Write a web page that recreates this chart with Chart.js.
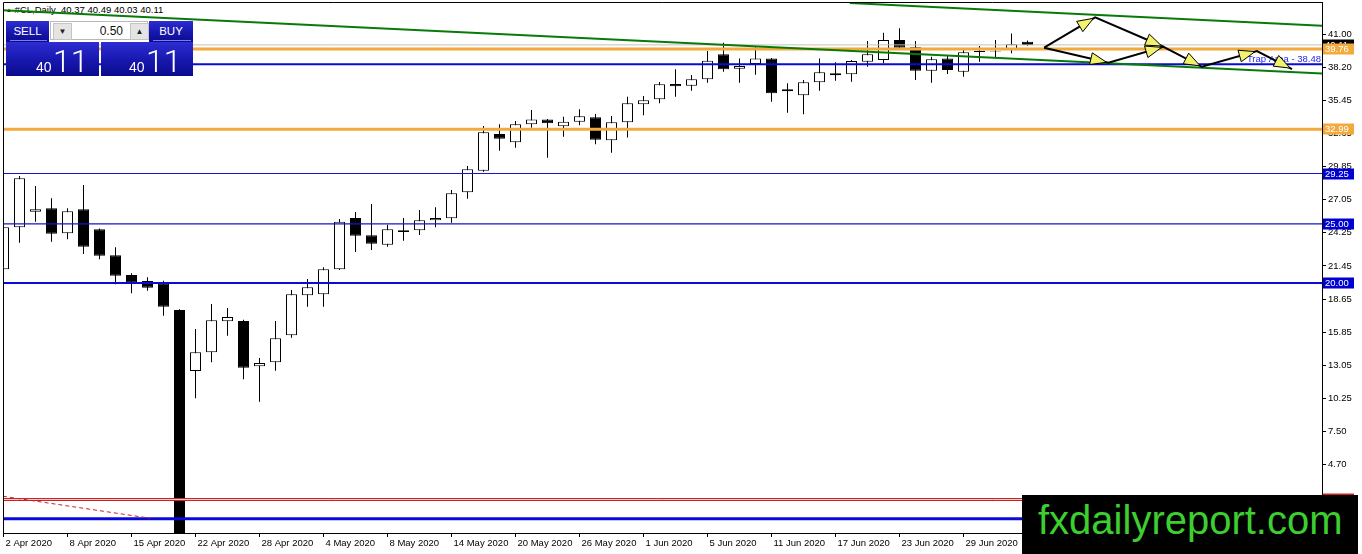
<!DOCTYPE html>
<html>
<head>
<meta charset="utf-8">
<script src="https://cdn.jsdelivr.net/npm/chart.js@4.4.1/dist/chart.umd.min.js"></script>
<style>
  html, body { margin: 0; padding: 0; background: #fff; }
  body { width: 1362px; height: 554px; position: relative; overflow: hidden; font-family: 'Liberation Sans', Arial, sans-serif; }
  #title { position: absolute; left: 6px; top: 5px; font-size: 9.5px; line-height: 10px; color: #000; white-space: pre; z-index: 0; }
  #title .tri { font-size: 6px; vertical-align: 1px; }
  #wrap { position: absolute; left: 0; top: 0; width: 1362px; height: 554px; z-index: 1; }
  .blue { position: absolute; color: #fff; background: linear-gradient(to bottom, #2d2dd2 0%, #1717ae 55%, #0b0b8e 100%); }
  #sell { left: 6px; top: 21px; width: 43px; height: 21px; z-index: 3; }
  #buy { left: 149px; top: 21px; width: 44px; height: 21px; z-index: 3; }
  #sell span, #buy span { position: absolute; left: 0; right: 0; top: 4px; text-align: center; font-size: 11.5px; line-height: 12px; }
  #sell i, #buy i { position: absolute; left: 4px; right: 2px; bottom: 1px; height: 1px; background: #7a7aee; }
  #pl { left: 6px; top: 42px; width: 93px; height: 34px; z-index: 2; }
  #pr { left: 101px; top: 42px; width: 92px; height: 34px; z-index: 2; }
  .sm { position: absolute; top: 18px; font-size: 14px; line-height: 14px; }
  .bg { position: absolute; top: 3px; font-family: Roboto, 'Liberation Sans', sans-serif; font-weight: 300; font-size: 32px; line-height: 32px; }
  #spin { position: absolute; left: 50px; top: 21px; width: 98px; height: 19px; background: #fff; border: 1px solid #b8b8b8; box-sizing: border-box; z-index: 3; }
  .sb { position: absolute; top: 1px; width: 17px; height: 15px; background: #e4e4e4; border: 1px solid #c4c4c4; font-size: 8px; line-height: 15px; text-align: center; color: #222; }
  #lot { position: absolute; right: 24px; top: 2px; font-size: 12px; line-height: 14px; color: #111; }
  #mark { position: absolute; left: 1022px; top: 495px; width: 336px; height: 59px; background: #000; z-index: 4; }
  #mark span { position: absolute; left: 16px; top: 5px; font-size: 40px; line-height: 40px; color: #3dce2f; white-space: nowrap; }
</style>
</head>
<body>
<div id="title"><span class="tri">&#9650;</span> #CL,Daily  40.37 40.49 40.03 40.11</div>
<div id="wrap"><canvas id="chart" width="1362" height="554"></canvas></div>

<div id="sell" class="blue"><span>SELL</span><i></i></div>
<div id="spin"><div class="sb" style="left:2px">&#9660;</div><span id="lot">0.50</span><div class="sb" style="left:79px">&#9650;</div></div>
<div id="buy" class="blue"><span>BUY</span><i></i></div>
<div id="pl" class="blue"><span class="sm" style="left:30px">40</span><span class="bg" style="left:47px">11</span></div>
<div id="pr" class="blue"><span class="sm" style="left:28px">40</span><span class="bg" style="left:45px">11</span></div>

<div id="mark"><span>fxdailyreport.com</span></div>

<script>
// #CL diario, 2 abr - 3 jul 2020: uma barra por pregao (indice 0..64)
const dateLabels = ['2 Apr 2020', '8 Apr 2020', '15 Apr 2020', '22 Apr 2020', '28 Apr 2020', '4 May 2020',
  '8 May 2020', '14 May 2020', '20 May 2020', '26 May 2020', '1 Jun 2020', '5 Jun 2020',
  '11 Jun 2020', '17 Jun 2020', '23 Jun 2020', '29 Jun 2020'];
const labelBars = [0, 4, 8, 12, 16, 20, 24, 28, 32, 36, 40, 44, 48, 52, 56, 60];

const opens = [21.16, 24.71, 26.02, 26.31, 24.20, 26.23, 24.54, 22.34, 20.68, 20.17,
  19.98, 17.73, 12.58, 14.16, 16.77, 16.80, 12.97, 13.31, 15.59, 18.97,
  19.05, 21.16, 25.49, 24.03, 23.24, 24.45, 24.45, 25.30, 25.47, 27.66,
  29.49, 32.58, 31.88, 33.40, 33.82, 33.23, 33.62, 33.99, 32.05, 33.57,
  35.09, 35.51, 36.80, 36.66, 37.20, 39.31, 38.10, 38.49, 38.97, 36.19,
  35.85, 36.95, 37.71, 37.62, 38.69, 38.83, 40.52, 39.90, 37.93, 38.97,
  37.84, 39.51, 39.55, 39.73, 40.37];
const highs = [27.29, 29.04, 28.19, 27.16, 26.31, 28.28, 24.60, 23.02, 20.82, 20.49,
  20.20, 17.80, 16.12, 18.23, 17.89, 16.90, 13.67, 16.80, 19.41, 20.34,
  21.33, 25.41, 26.00, 26.67, 24.93, 25.49, 26.17, 26.40, 27.86, 29.88,
  33.26, 33.40, 33.68, 34.61, 33.85, 34.04, 34.67, 34.27, 34.10, 35.73,
  35.79, 36.97, 38.05, 37.56, 39.59, 40.29, 38.97, 39.90, 39.00, 36.86,
  37.14, 38.97, 38.64, 38.83, 40.43, 41.14, 41.51, 40.43, 39.11, 39.17,
  39.67, 40.01, 40.52, 41.08, 40.49];
const lows = [20.68, 23.41, 25.18, 23.49, 23.69, 22.45, 22.01, 19.90, 19.14, 19.36,
  17.25, -3.00, 10.27, 13.31, 15.56, 11.88, 9.99, 12.60, 15.39, 18.00,
  18.00, 21.10, 22.62, 22.80, 23.07, 23.58, 24.06, 24.71, 25.10, 27.12,
  29.40, 31.17, 31.43, 33.12, 30.58, 32.36, 33.32, 31.71, 31.00, 32.30,
  34.16, 35.18, 35.73, 36.24, 36.91, 37.84, 36.91, 37.59, 35.31, 34.38,
  34.25, 36.24, 37.08, 37.00, 38.26, 38.55, 39.76, 37.14, 36.91, 37.65,
  37.42, 38.69, 38.97, 39.40, 40.03];
const closes = [24.71, 28.84, 26.23, 24.17, 26.06, 23.07, 22.31, 20.62, 20.06, 19.61,
  18.00, -3.00, 14.16, 16.86, 17.14, 12.86, 13.25, 15.34, 19.05, 19.64,
  21.16, 25.18, 24.00, 23.32, 24.54, 24.31, 25.30, 25.49, 27.58, 29.60,
  32.73, 32.19, 33.40, 33.82, 33.49, 33.62, 34.08, 32.10, 33.57, 35.18,
  35.43, 36.78, 36.61, 37.20, 38.77, 38.05, 38.32, 38.97, 36.02, 36.36,
  36.95, 37.79, 37.54, 38.75, 39.31, 40.52, 39.87, 37.93, 38.89, 37.99,
  39.48, 39.59, 39.60, 40.16, 40.11];

const yTicks = [41.00, 38.20, 35.45, 32.65, 29.85, 27.05, 24.25, 21.45, 18.65, 15.85, 13.05, 10.25, 7.50, 4.70];

// niveis horizontais desenhados no grafico
const orangeLevels = [39.76, 32.99];
const blueLevels = [38.48, 20.00];
const thinBlueLevels = [29.25, 25.00];
const baseLevels = [0.11];
const redLevels = [1.73];
const bidPrice = 40.11;
const trapLevel = 38.48;

// objetos desenhados: [indice da barra, preco]
const trendUpper = [[52.9, 43.64], [82.41, 41.73]];
const trendLower = [[-0.03, 43.04], [82.41, 37.69]];
const redDash = [[-0.03, 2.00], [9.16, 0.15]];
const arrowUp = [[65.04, 39.87], [68.23, 42.44], [72.50, 39.95]];
const arrowDown = [[65.04, 39.87], [69.06, 38.60], [72.50, 39.95], [74.90, 38.26], [78.34, 39.59], [80.53, 38.07]];

const X_MIN = -0.03125, X_MAX = 82.406, Y_MIN = -1.10, Y_MAX = 43.73;
const ORANGE = 'rgb(242,170,60)', BLUE = '#0a0ad8', THIN_BLUE = '#1616c8', GREEN = '#087a08', RED = '#cc2020';
const FONT = { family: "'Liberation Sans', Arial, sans-serif", size: 9.5 };

const idx = opens.map((_, i) => i);
const pts = (arr) => arr.map(([x, y]) => ({ x, y }));
const hline = (v, color, width, order) => ({
  type: 'line', data: [{ x: X_MIN, y: v }, { x: X_MAX, y: v }],
  borderColor: color, borderWidth: width, pointRadius: 0, pointHoverRadius: 0, clip: 0, order,
});
const seg = (arr, color, width, order, dash) => ({
  type: 'line', data: pts(arr), borderColor: color, borderWidth: width, borderDash: dash || [],
  pointRadius: 0, pointHoverRadius: 0, tension: 0, clip: 0, order,
});

const datasets = [
  // pavios atras dos corpos
  { type: 'bar', data: idx.map((i) => ({ x: i, y: [lows[i], highs[i]] })), backgroundColor: '#000',
    borderWidth: 0, barThickness: 1, grouped: false, inflateAmount: 0, clip: 0, order: 20 },
  { type: 'bar', data: idx.map((i) => ({ x: i, y: [opens[i], closes[i]] })),
    backgroundColor: idx.map((i) => (closes[i] >= opens[i] ? '#fff' : '#000')),
    borderColor: '#000', borderWidth: 1, borderSkipped: false, barThickness: 11, grouped: false,
    inflateAmount: 0, clip: 0, order: 19 },
  hline(bidPrice, '#c0c0c0', 1, 8),
  ...thinBlueLevels.map((v) => hline(v, THIN_BLUE, 1.2, 7)),
  ...blueLevels.map((v) => hline(v, BLUE, 2, 7)),
  ...baseLevels.map((v) => hline(v, BLUE, 3, 7)),
  ...redLevels.map((v) => hline(v, RED, 3, 7)),
  ...redLevels.map((v) => hline(v, '#f6d0d0', 1, 6)),
  ...orangeLevels.map((v) => hline(v, ORANGE, 3, 6)),
  seg(redDash, RED, 1, 5, [4, 3]),
  seg(trendUpper, GREEN, 2, 4),
  seg(trendLower, GREEN, 2, 4),
  seg(arrowUp, '#000', 2, 2),
  seg(arrowDown, '#000', 2, 2),
];

const overlay = {
  id: 'mtOverlay',
  beforeDatasetsDraw(chart) {
    const { ctx, chartArea: a, scales: { y } } = chart;
    ctx.save();
    ctx.font = `${FONT.size}px ${FONT.family}`;
    ctx.fillStyle = '#2626f0';
    ctx.textAlign = 'right';
    ctx.textBaseline = 'bottom';
    ctx.fillText('Trap Area - ' + trapLevel.toFixed(2), a.right - 1, y.getPixelForValue(trapLevel) - 0.5);
    ctx.restore();
  },
  afterDatasetsDraw(chart) {
    const { ctx, chartArea: a, scales: { x, y } } = chart;
    ctx.save();
    ctx.beginPath();
    ctx.rect(a.left, a.top, a.right - a.left, a.bottom - a.top);
    ctx.clip();
    [arrowUp, arrowDown].forEach((path) => {
      for (let i = 1; i < path.length; i++) {
        const x0 = x.getPixelForValue(path[i - 1][0]), y0 = y.getPixelForValue(path[i - 1][1]);
        const x1 = x.getPixelForValue(path[i][0]), y1 = y.getPixelForValue(path[i][1]);
        const len = Math.hypot(x1 - x0, y1 - y0);
        const ux = (x1 - x0) / len, uy = (y1 - y0) / len;
        const tx = x1 - ux * 2, ty = y1 - uy * 2;
        const bx = tx - ux * 16, by = ty - uy * 16;
        ctx.beginPath();
        ctx.moveTo(tx, ty);
        ctx.lineTo(bx - uy * 6, by + ux * 6);
        ctx.lineTo(bx + uy * 6, by - ux * 6);
        ctx.closePath();
        ctx.fillStyle = '#f2f26c';
        ctx.fill();
        ctx.strokeStyle = '#000';
        ctx.lineWidth = 1;
        ctx.stroke();
      }
    });
    ctx.restore();
  },
  afterDraw(chart) {
    const { ctx, chartArea: a, scales: { y } } = chart;
    ctx.save();
    // moldura superior e esquerda
    ctx.strokeStyle = '#000';
    ctx.lineWidth = 1;
    ctx.beginPath();
    ctx.moveTo(a.left + 0.5, a.bottom);
    ctx.lineTo(a.left + 0.5, a.top + 0.5);
    ctx.lineTo(a.right, a.top + 0.5);
    ctx.stroke();
    // etiquetas de preco no eixo direito
    const tags = [[bidPrice, '#000']]
      .concat(orangeLevels.map((v) => [v, ORANGE]))
      .concat(thinBlueLevels.map((v) => [v, '#0000d0']))
      .concat(blueLevels.filter((v) => v !== trapLevel).map((v) => [v, '#0000d0']))
      .concat(redLevels.map((v) => [v, RED]));
    ctx.font = `${FONT.size}px ${FONT.family}`;
    ctx.textAlign = 'left';
    ctx.textBaseline = 'middle';
    tags.forEach(([v, c]) => {
      const py = Math.round(y.getPixelForValue(v));
      ctx.fillStyle = c;
      ctx.fillRect(a.right + 1, py - 5.5, 31, 11);
      ctx.fillStyle = '#fff';
      ctx.fillText(v.toFixed(2), a.right + 3, py + 0.5);
    });
    ctx.restore();
  },
};

new Chart(document.getElementById('chart'), {
  type: 'bar',
  data: { datasets },
  plugins: [overlay],
  options: {
    responsive: false,
    animation: false,
    events: [],
    layout: { padding: { left: 3, top: 2, right: 0, bottom: 0 }, autoPadding: false },
    plugins: { legend: { display: false }, tooltip: { enabled: false } },
    scales: {
      x: {
        type: 'linear', position: 'bottom', min: X_MIN, max: X_MAX, offset: false,
        grid: { display: true, drawOnChartArea: false, drawTicks: true, tickLength: 4, color: '#000', offset: false },
        border: { display: true, color: '#000', width: 1 },
        ticks: {
          autoSkip: false, maxRotation: 0, minRotation: 0, align: 'start', labelOffset: 2, padding: 1,
          color: '#000', font: FONT,
          callback: (v) => dateLabels[labelBars.indexOf(v)] ?? '',
        },
        afterBuildTicks: (s) => { s.ticks = labelBars.map((v) => ({ value: v })); },
        afterFit: (s) => { s.height = 21; s.paddingLeft = 0; s.paddingRight = 0; },
      },
      y: {
        type: 'linear', position: 'right', min: Y_MIN, max: Y_MAX,
        grid: { display: true, drawOnChartArea: false, drawTicks: true, tickLength: 4, color: '#000' },
        border: { display: true, color: '#000', width: 1 },
        ticks: { autoSkip: false, padding: 2, color: '#000', font: FONT, callback: (v) => Number(v).toFixed(2) },
        afterBuildTicks: (s) => { s.ticks = yTicks.map((v) => ({ value: v })); },
        afterFit: (s) => { s.width = 40; s.paddingTop = 0; s.paddingBottom = 0; },
      },
    },
  },
});
</script>
</body>
</html>
